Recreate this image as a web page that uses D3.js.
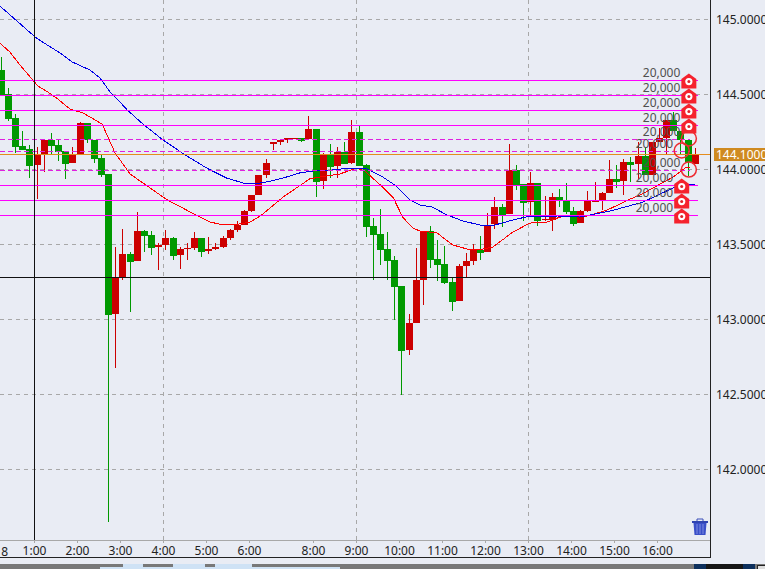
<!DOCTYPE html>
<html>
<head>
<meta charset="utf-8">
<script src="https://cdn.jsdelivr.net/npm/d3@7"></script>
<style>
html, body { margin: 0; padding: 0; background: #e9ecf4; overflow: hidden; }
svg { display: block; }
text { font-family: "Noto Sans", sans-serif; font-size: 12px; }
</style>
</head>
<body>
<svg id="chart" width="765" height="569"></svg>
<script>
// ten minute candles, oldest first
const open = [144.663,144.503,144.343,144.157,144.137,144.030,144.103,144.197,144.163,144.123,144.043,144.103,144.310,144.197,144.077,143.970,143.037,143.283,143.437,143.390,143.590,143.563,143.483,143.497,143.543,143.430,143.470,143.477,143.543,143.457,143.470,143.483,143.543,143.597,143.630,143.723,143.830,143.963,144.170,144.183,144.197,144.203,144.210,144.203,144.270,143.923,144.103,144.023,144.117,144.043,144.250,144.030,143.623,143.570,143.470,143.397,143.223,142.797,142.977,143.263,143.590,143.403,143.370,143.250,143.123,143.357,143.390,143.463,143.450,143.637,143.750,143.703,143.997,143.903,143.783,143.910,143.663,143.663,143.817,143.790,143.723,143.643,143.723,143.783,143.797,143.843,143.937,143.923,144.050,144.037,144.090,143.963,144.183,144.210,144.330,144.257,144.197,144.037]
const high = [144.750,144.543,144.370,144.257,144.163,144.150,144.203,144.243,144.197,144.123,144.150,144.317,144.310,144.197,144.097,143.970,143.483,143.603,143.450,143.717,143.597,143.590,143.510,143.597,143.550,143.483,143.510,143.583,143.543,143.550,143.510,143.557,143.603,143.657,143.730,143.830,143.963,144.070,144.183,144.197,144.210,144.210,144.210,144.357,144.270,144.110,144.170,144.150,144.183,144.330,144.290,144.037,143.677,143.737,143.583,143.423,143.223,143.037,143.477,143.590,143.623,143.530,143.490,143.277,143.370,143.443,143.503,143.557,143.710,143.817,143.770,144.170,144.030,143.903,143.983,143.910,143.823,143.843,143.870,143.910,143.750,143.730,143.857,143.917,143.850,144.063,144.030,144.070,144.083,144.183,144.143,144.183,144.277,144.330,144.383,144.257,144.203,144.143]
const low = [144.497,144.323,144.110,144.130,143.943,143.803,143.983,144.097,144.057,143.937,144.043,144.097,144.177,144.043,143.950,141.650,142.677,143.263,143.050,143.390,143.450,143.430,143.330,143.463,143.397,143.337,143.397,143.463,143.417,143.437,143.463,143.477,143.530,143.583,143.630,143.717,143.830,143.943,144.130,144.163,144.177,144.203,144.183,144.197,143.817,143.870,143.943,143.943,144.037,144.037,144.023,143.550,143.263,143.363,143.263,142.997,142.497,142.763,142.977,143.097,143.343,143.257,143.237,143.057,143.123,143.277,143.363,143.397,143.450,143.603,143.617,143.703,143.863,143.657,143.690,143.623,143.657,143.590,143.750,143.703,143.623,143.643,143.717,143.783,143.730,143.843,143.877,143.830,143.917,143.937,143.963,143.963,144.183,144.097,144.257,144.097,143.957,144.037]
const close = [144.497,144.337,144.150,144.130,144.023,144.103,144.197,144.157,144.117,144.037,144.103,144.310,144.197,144.070,143.963,143.030,143.283,143.437,143.383,143.590,143.557,143.477,143.497,143.543,143.423,143.470,143.477,143.543,143.450,143.470,143.483,143.543,143.597,143.630,143.723,143.830,143.963,144.043,144.183,144.197,144.210,144.210,144.190,144.270,143.917,144.103,144.017,144.117,144.037,144.250,144.023,143.617,143.563,143.463,143.390,143.217,142.790,142.977,143.263,143.590,143.397,143.363,143.243,143.117,143.357,143.390,143.463,143.443,143.623,143.750,143.697,143.997,143.897,143.777,143.910,143.657,143.670,143.817,143.790,143.717,143.637,143.723,143.797,143.797,143.843,143.937,143.917,144.050,144.030,144.090,143.963,144.183,144.210,144.330,144.257,144.197,144.050,144.097]

// moving averages, sampled at candle positions
const blueAt = [-0.2,4.4,5.1,8.2,9.9,12.4,13.8,15.2,16.2,17.6,19.8,22.6,25.7,28.7,31.5,33.8,36.2,37.1,39.4,41.7,43.6,46.4,48.7,50.8,53.3,55.0,57.1,58.5,60.2,62.3,64.5,66.9,69.0,71.5,73.9,77.7,80.9,85.1,89.7,93.9,96.9]
const blueVal = [145.09,144.897,144.87,144.777,144.717,144.663,144.61,144.517,144.47,144.397,144.303,144.197,144.097,144.01,143.943,143.91,143.91,143.917,143.943,143.977,143.99,143.997,144.01,144.01,143.95,143.897,143.797,143.763,143.75,143.697,143.657,143.63,143.63,143.663,143.69,143.69,143.683,143.723,143.783,143.877,143.903]
const redAt = [-0.2,1.2,2.6,4.4,5.1,6.5,7.9,9.6,11.4,14.1,15.9,18.0,20.4,23.2,26.4,29.2,31.0,33.4,34.8,36.4,39.4,43.1,44.5,47.3,49.7,50.8,53.3,54.8,56.1,57.5,58.5,60.9,63.1,65.1,67.3,68.7,70.4,71.5,73.9,76.3,78.1,81.9,84.7,87.9,89.3,93.9,95.6,96.3]
const redVal = [144.843,144.783,144.697,144.597,144.557,144.517,144.47,144.403,144.377,144.303,144.11,143.97,143.89,143.797,143.717,143.65,143.63,143.637,143.65,143.697,143.817,143.937,143.95,143.97,144.01,143.99,143.883,143.81,143.683,143.61,143.59,143.577,143.497,143.47,143.47,143.483,143.543,143.583,143.643,143.65,143.683,143.69,143.73,143.803,143.83,143.95,144.01,144.017]

// order levels
const solidLevels = [144.593,144.493,144.393,144.293,143.893,143.793,143.693]
const dashedLevels = [144.2,144.12,143.993]
const lastPrice = 144.1
const crossPrice = 143.28

const upperIcons = [144.593,144.493,144.393,144.293]
const lowerIcons = [143.893,143.793,143.693]
const circleMarks = [
  { at: 96.1, level: 144.2 },
  { at: 95.1, level: 144.12 },
  { at: 96.1, level: 143.993 }
]
const sizeLabel = '20,000'

const hourAt = [4.6,10.6,16.6,22.6,28.6,34.6,43.6,49.6,55.6,61.6,67.6,73.6,79.6,85.6,91.6]
const hourLabels = ['1:00','2:00','3:00','4:00','5:00','6:00','8:00','9:00','10:00','11:00','12:00','13:00','14:00','15:00','16:00']
const gridHours = [22.6,49.6,73.6]
const priceTicks = [145,144.5,144,143.5,143,142.5,142]

const plotW = 710
const axisY = 540
const frameY = 557
const upColor = '#cc0000'
const downColor = '#009900'

const svg = d3.select('#chart')

const x = d3.scaleLinear().domain([0, 97]).range([1.3, 695.3])
const xTick = x.copy().interpolate(d3.interpolateRound)
const y = d3.scaleLinear().domain([145, 142]).range([19.5, 469.5])
const snap = v => Math.floor(v) + 0.5

svg.append('defs').append('clipPath').attr('id', 'plot')
  .append('rect').attr('width', plotW).attr('height', axisY)

// grid
const grid = svg.append('g').attr('stroke', '#a8a8a8').attr('stroke-dasharray', '4,4')
grid.selectAll('.h').data(priceTicks).enter().append('line')
  .attr('x1', 0).attr('x2', plotW)
  .attr('y1', d => y(d)).attr('y2', d => y(d))
grid.selectAll('.v').data(gridHours).enter().append('line')
  .attr('x1', d => xTick(d) + 0.5).attr('x2', d => xTick(d) + 0.5)
  .attr('y1', 0).attr('y2', axisY)

// candles
const candles = open.map((o, i) => ({ i, o, h: high[i], l: low[i], c: close[i] }))
const plot = svg.append('g').attr('clip-path', 'url(#plot)')
const bars = plot.append('g').attr('shape-rendering', 'crispEdges')
const color = d => d.c >= d.o ? upColor : downColor

bars.selectAll('.wick').data(candles).enter().append('line')
  .attr('class', 'wick')
  .attr('x1', d => snap(x(d.i))).attr('x2', d => snap(x(d.i)))
  .attr('y1', d => Math.round(y(d.h))).attr('y2', d => Math.round(y(d.l)))
  .attr('stroke', color)

bars.selectAll('.body').data(candles).enter().append('rect')
  .attr('class', 'body')
  .attr('x', d => Math.round(x(d.i) - 3.5))
  .attr('width', 7)
  .attr('y', d => Math.round(y(Math.max(d.o, d.c))))
  .attr('height', d => Math.max(1, Math.round(y(Math.min(d.o, d.c))) - Math.round(y(Math.max(d.o, d.c)))))
  .attr('fill', color)

// moving averages
const maLine = d3.line().x(d => x(d[0])).y(d => y(d[1]))
plot.append('path').datum(d3.zip(redAt, redVal))
  .attr('d', maLine).attr('fill', 'none').attr('stroke', '#ff0000')
  .attr('shape-rendering', 'crispEdges')
plot.append('path').datum(d3.zip(blueAt, blueVal))
  .attr('d', maLine).attr('fill', 'none').attr('stroke', '#0000e6')
  .attr('shape-rendering', 'crispEdges')

// order lines
const levels = svg.append('g').attr('shape-rendering', 'crispEdges')
levels.selectAll('.solid').data(solidLevels).enter().append('line')
  .attr('x1', 0).attr('x2', 698)
  .attr('y1', d => snap(y(d))).attr('y2', d => snap(y(d)))
  .attr('stroke', '#ff00ff')
levels.selectAll('.dashed').data(dashedLevels).enter().append('line')
  .attr('x1', 0).attr('x2', 690)
  .attr('y1', d => snap(y(d))).attr('y2', d => snap(y(d)))
  .attr('stroke', '#e020e0').attr('stroke-dasharray', '5,3')
levels.append('line')
  .attr('x1', 0).attr('x2', plotW)
  .attr('y1', snap(y(lastPrice))).attr('y2', snap(y(lastPrice)))
  .attr('stroke', '#e48c1c')

// crosshair
levels.append('line')
  .attr('x1', xTick(hourAt[0]) + 0.5).attr('x2', xTick(hourAt[0]) + 0.5)
  .attr('y1', 0).attr('y2', axisY).attr('stroke', '#111')
levels.append('line')
  .attr('x1', 0).attr('x2', plotW)
  .attr('y1', snap(y(crossPrice))).attr('y2', snap(y(crossPrice)))
  .attr('stroke', '#111')

// size labels next to the order marks
const labelRows = upperIcons.map(level => ({ level, at: 96.1 }))
  .concat(circleMarks)
  .concat(lowerIcons.map(level => ({ level, at: 95.1 })))
svg.append('g').selectAll('text').data(labelRows).enter().append('text')
  .attr('x', d => x(d.at) - 8.5)
  .attr('y', d => y(d.level) - 3.5)
  .attr('text-anchor', 'end')
  .attr('fill', '#505050')
  .text(sizeLabel)

// order marks
function house (sel, at) {
  const g = sel.enter().append('g')
    .attr('transform', d => 'translate(' + x(at) + ',' + (y(d) + 1) + ')')
  g.append('path').attr('d', 'M0,-8L7.5,-2.5V7H-7.5V-2.5Z').attr('fill', '#f5222d')
  g.append('circle').attr('r', 3.6).attr('fill', '#fff')
  g.append('circle').attr('r', 1.5).attr('fill', '#e0202a')
}
house(svg.append('g').selectAll('g').data(upperIcons), 96.1)
house(svg.append('g').selectAll('g').data(lowerIcons), 95.1)

svg.append('g').selectAll('circle').data(circleMarks).enter().append('circle')
  .attr('cx', d => x(d.at)).attr('cy', d => y(d.level) - 1)
  .attr('r', 7.5).attr('fill', 'none')
  .attr('stroke', '#ee2a30').attr('stroke-width', 1.5)

// price axis
const yAxis = svg.append('g')
  .attr('transform', 'translate(' + plotW + ',0)')
  .call(d3.axisRight(y).tickValues(priceTicks).tickFormat(d3.format('.4f')).tickSize(0).tickPadding(6).offset(0))
yAxis.select('.domain').remove()
yAxis.selectAll('text').attr('fill', '#222').attr('y', 1).style('font-size', '12px').style('font-family', '"Noto Sans", sans-serif')

svg.append('rect').attr('x', 714).attr('y', y(lastPrice) - 6.5).attr('width', 51).attr('height', 13).attr('fill', '#cf8a20')
svg.append('text').attr('x', 716).attr('y', y(lastPrice) + 0.5).attr('dy', '0.36em').attr('fill', '#fff').text(d3.format('.4f')(lastPrice))

// time axis
const xAxis = svg.append('g')
  .attr('transform', 'translate(0,' + axisY + ')')
  .call(d3.axisBottom(xTick).tickValues(hourAt).tickFormat((d, i) => hourLabels[i]).tickSize(3).tickPadding(3))
xAxis.select('.domain').remove()
xAxis.selectAll('line').attr('stroke', '#a8a8a8')
xAxis.selectAll('text').attr('fill', '#222').style('font-size', '12px').style('font-family', '"Noto Sans", sans-serif')
svg.append('text').attr('x', 8).attr('y', axisY + 16).attr('text-anchor', 'end').attr('fill', '#222').text('8')

// frame
const frame = svg.append('g').attr('shape-rendering', 'crispEdges')
frame.append('line').attr('x1', 0).attr('x2', plotW).attr('y1', axisY + 0.5).attr('y2', axisY + 0.5).attr('stroke', '#a8a8a8')
frame.append('line').attr('x1', 0).attr('x2', plotW + 1).attr('y1', frameY + 0.5).attr('y2', frameY + 0.5).attr('stroke', '#222')
frame.append('line').attr('x1', plotW + 0.5).attr('x2', plotW + 0.5).attr('y1', 0).attr('y2', frameY + 1).attr('stroke', '#222')

// trash icon
const trash = svg.append('g').attr('transform', 'translate(700,527)')
trash.append('path').attr('d', 'M-3,-6V-8H3V-6').attr('fill', 'none').attr('stroke', '#3a4fb8')
trash.append('rect').attr('x', -8).attr('y', -6).attr('width', 16).attr('height', 2).attr('fill', '#2f43b0')
trash.append('path').attr('d', 'M-6.5,-4H6.5L5.5,8H-5.5Z').attr('fill', '#3a4fc8')
trash.selectAll('.slat').data([-3, 0, 3]).enter().append('rect')
  .attr('x', d => d - 0.5).attr('y', -3).attr('width', 1).attr('height', 10).attr('fill', '#7f8ee0')

// window strip under the chart
const strip = svg.append('g').attr('shape-rendering', 'crispEdges')
strip.append('rect').attr('y', 564).attr('width', 765).attr('height', 5).attr('fill', '#787878')
strip.append('rect').attr('x', 100).attr('y', 567).attr('width', 240).attr('height', 2).attr('fill', '#cfe2f5')
strip.selectAll('.sky').data([[123, 20], [173, 32], [215, 37]]).enter().append('rect')
  .attr('x', d => d[0]).attr('y', 564).attr('width', d => d[1]).attr('height', 5).attr('fill', '#cfe2f5')
strip.append('rect').attr('x', 694).attr('y', 564).attr('width', 61).attr('height', 5).attr('fill', '#0c2f5c')
strip.append('rect').attr('x', 706).attr('y', 564).attr('width', 37).attr('height', 5).attr('fill', '#161616')
strip.append('rect').attr('x', 757.5).attr('y', 565.5).attr('width', 8).attr('height', 5).attr('fill', '#ddd').attr('stroke', '#222')
</script>
</body>
</html>
